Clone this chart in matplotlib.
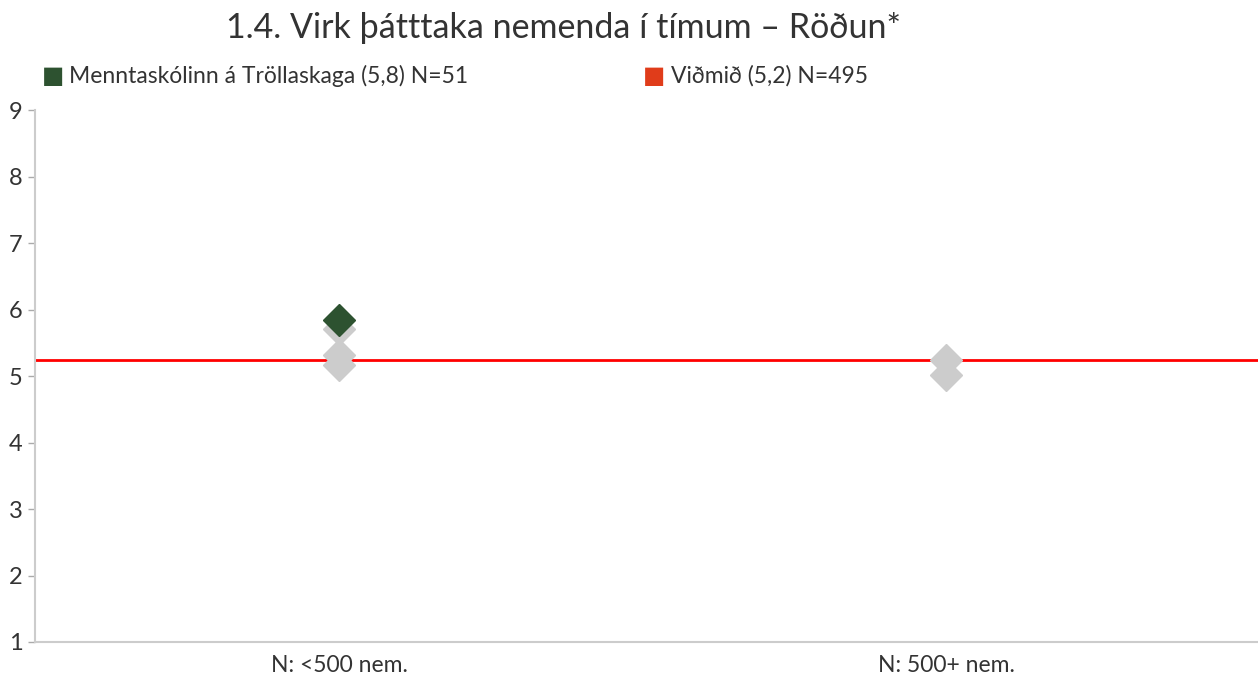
import matplotlib.pyplot as plt

plt.rcParams['font.family'] = ['Lato', 'DejaVu Sans']

categories = ["N: <500 nem.", "N: 500+ nem."]
other_schools = [[5.70, 5.32, 5.16], [5.24, 5.02]]
school_value = 5.84
school_label = "Menntaskólinn á Tröllaskaga (5,8) N=51"
benchmark = 5.24
benchmark_label = "Viðmið (5,2) N=495"
title = "1.4. Virk þátttaka nemenda í tímum – Röðun*"

fig = plt.figure(figsize=(12.58, 6.73), dpi=100)
ax = fig.add_axes([35 / 1258, 31 / 673, 1223 / 1258, 532 / 673])

# other schools in gray
for i, vals in enumerate(other_schools):
    ax.plot([i] * len(vals), vals, linestyle="none", marker="D", markersize=16,
            color="#cccccc", zorder=2)

ax.axhline(benchmark, color="#ff0000", linewidth=2, zorder=1)
ax.plot([0], [school_value], linestyle="none", marker="D", markersize=16,
        color="#2d5230", zorder=3)

ax.set_xlim(-0.5008, 1.514)
ax.set_ylim(1, 9)
ax.set_yticks(range(1, 10))
ax.set_xticks(range(len(categories)))
ax.set_xticklabels(categories)
ax.tick_params(axis="x", length=0, pad=9, labelsize=16.5, colors="#333333")
ax.tick_params(axis="y", length=5, width=1, color="#aaaaaa", pad=4, labelsize=17,
               labelcolor="#333333")
for s in ["top", "right"]:
    ax.spines[s].set_visible(False)
for s in ["left", "bottom"]:
    ax.spines[s].set_color("#cccccc")
    ax.spines[s].set_linewidth(1.5)

fig.text(0.448, 0.958, title, ha="center", va="center", fontsize=24.5,
         color="#333333")

# legend row
fig.text(0.033, 0.887, "■", fontsize=17, color="#2d5230", va="center")
fig.text(0.055, 0.887, school_label, fontsize=16.5, color="#333333", va="center")
fig.text(0.511, 0.887, "■", fontsize=17, color="#e03c1a", va="center")
fig.text(0.533, 0.887, benchmark_label, fontsize=16.5, color="#333333", va="center")

fig.savefig("out.png", dpi=100)
